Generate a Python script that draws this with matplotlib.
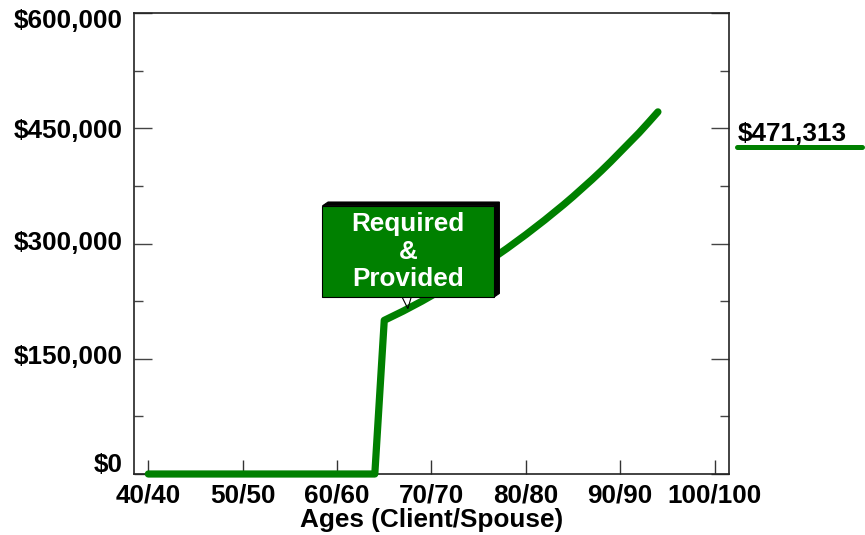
import matplotlib
matplotlib.use("Agg")
import matplotlib.pyplot as plt
from matplotlib.patches import Polygon
from matplotlib.lines import Line2D
from matplotlib.transforms import ScaledTranslation
from matplotlib.ticker import FixedLocator, MultipleLocator, NullFormatter

plt.rcParams['font.family'] = ['Liberation Sans', 'DejaVu Sans']
plt.rcParams['font.weight'] = 'bold'

# Capital need by client age (client and spouse are the same age)
ages = list(range(40, 95))
needed = [0] * 25 + [
    200000, 206000, 212000, 218500, 225000, 232000, 239000, 246000,
    253500, 261000, 269000, 277000, 285000, 293500, 302500, 311500,
    321000, 330500, 340500, 350500, 361000, 372000, 383000, 394500,
    406500, 419000, 431500, 444000, 457500, 471313,
]
tick_ages = [40, 50, 60, 70, 80, 90, 100]
tick_labels = [f"{a}/{a}" for a in tick_ages]
y_ticks = [0, 150000, 300000, 450000, 600000]
callout_text = "Required\n&\nProvided"
callout_age = 67.5

GREEN = "#008000"
FS = 18.8

fig = plt.figure(figsize=(8.65, 5.35), dpi=100)
W, H = 865, 535
ax = fig.add_axes([133.7 / W, 1 - 474 / H, (728.7 - 133.7) / W, (474 - 13) / H])

ax.plot(ages, needed, color=GREEN, lw=5.2, solid_capstyle='round',
        solid_joinstyle='round', clip_on=False, zorder=3)

ax.set_xlim(38.45, 101.5)
ax.set_ylim(0, 600000)

ax.xaxis.set_major_locator(FixedLocator(tick_ages))
ax.set_xticklabels(tick_labels, fontsize=FS, fontweight='bold')
ax.yaxis.set_major_locator(FixedLocator(y_ticks))
ax.yaxis.set_minor_locator(MultipleLocator(75000))
ax.yaxis.set_major_formatter(NullFormatter())

# Value labels on the left, pulled slightly inside the axis range
label_shift_px = [9.5, 1.5, 0, -3, -8]
ylab_trans = ax.get_yaxis_transform()
for v, dpx in zip(y_ticks, label_shift_px):
    t = ylab_trans + ScaledTranslation(-11 / 100, dpx / 100, fig.dpi_scale_trans)
    ax.text(0, v, f"${v:,.0f}", transform=t, ha='right', va='center',
            fontsize=FS, fontweight='bold', clip_on=False)

ax.tick_params(axis='x', which='major', direction='in', length=10, width=1,
               color='#333333', pad=6.5, top=False)
ax.tick_params(axis='y', which='major', direction='in', length=13, width=1,
               color='#444444', left=True, right=True)
ax.tick_params(axis='y', which='minor', direction='in', length=6.5, width=1,
               color='#444444', left=True, right=True)
ax.tick_params(axis='x', which='minor', bottom=False, top=False)

for s in ax.spines.values():
    s.set_linewidth(1.2)
    s.set_color('#222222')

ax.set_xlabel("Ages (Client/Spouse)", fontsize=FS, fontweight='bold', labelpad=1)

# Callout box with a 3D shadow, pointing at the curve
x0, x1 = 58.45, 76.6
y0, y1 = 230000, 349000
dx, dy = 0.6, 5000
shadow = Polygon([(x0, y1), (x0 + dx, y1 + dy), (x1 + dx, y1 + dy),
                  (x1 + dx, y0 + dy), (x1, y0), (x1, y1)],
                 closed=True, facecolor='black', edgecolor='black', lw=0.8,
                 zorder=5)
box = Polygon([(x0, y0), (x1, y0), (x1, y1), (x0, y1)], closed=True,
              facecolor=GREEN, edgecolor='black', lw=0.8, zorder=6)
tip_val = needed[ages.index(67)] + 0.5 * (needed[ages.index(68)] - needed[ages.index(67)])
pointer = Polygon([(callout_age - 0.6, y0), (callout_age, tip_val),
                   (callout_age + 0.35, y0)], closed=False,
                  facecolor='none', edgecolor='black', lw=0.8, zorder=4)
ax.add_patch(shadow)
ax.add_patch(box)
ax.add_patch(pointer)
ax.text((x0 + x1) / 2, (y0 + y1) / 2, callout_text, color='white',
        fontsize=FS, fontweight='bold', ha='center', va='center',
        linespacing=1.2, zorder=7)

# Final value label at the right
fig.text(738 / W, 1 - 141 / H, f"${needed[-1]:,.0f}", fontsize=FS,
         fontweight='bold', ha='left', va='baseline', color='black')
fig.add_artist(Line2D([737 / W, 862 / W], [1 - 147 / H, 1 - 147 / H],
                      transform=fig.transFigure, color=GREEN, lw=3.6,
                      solid_capstyle='round'))

fig.savefig("out.png", dpi=100)
